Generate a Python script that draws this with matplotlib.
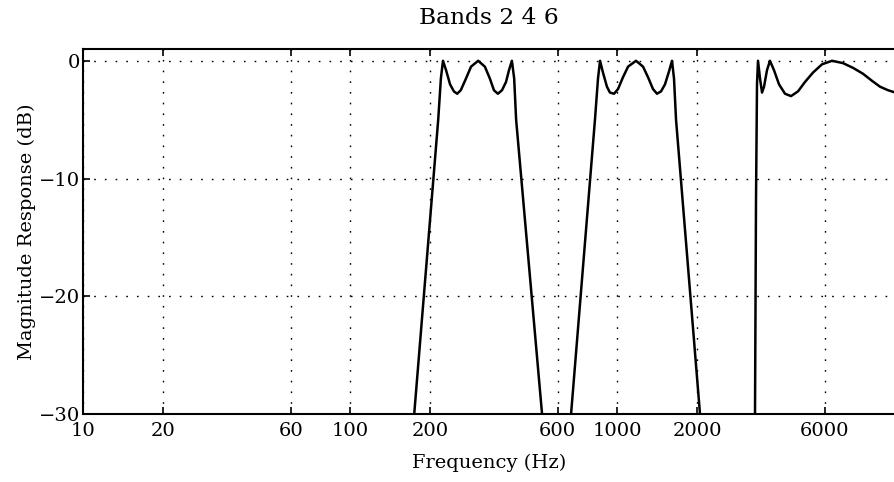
import matplotlib
matplotlib.use("Agg")
import matplotlib.pyplot as plt

# band 2 (Hz, dB)
band2_freq = [174, 214, 219, 223, 229, 237, 245, 252, 260, 272, 284, 302,
              320, 334, 346, 358, 371, 384, 394, 404, 412, 419, 524]
band2_db = [-30, -5, -1.5, 0, -0.8, -2.0, -2.6, -2.8, -2.5, -1.5, -0.5, 0,
            -0.5, -1.5, -2.5, -2.8, -2.5, -1.8, -0.8, 0, -1.5, -5, -30]

# band 4
band4_freq = [673, 827, 849, 864, 886, 917, 941, 975, 1009, 1053, 1100, 1178,
              1252, 1307, 1364, 1412, 1462, 1513, 1566, 1607, 1635, 1664, 2046]
band4_db = [-30, -5, -1.5, 0, -1.0, -2.2, -2.7, -2.8, -2.4, -1.4, -0.5, 0,
            -0.5, -1.4, -2.4, -2.8, -2.6, -2.0, -0.9, 0, -1.5, -5, -30]

# band 6
band6_freq = [3288, 3316, 3345, 3374, 3433, 3493, 3554, 3646, 3741, 3873, 4044,
              4259, 4486, 4764, 5060, 5422, 5861, 6388, 7023, 7654, 8342, 9016,
              9661, 10351, 11025]
band6_db = [-30, -12, -2, 0, -1.5, -2.7, -2.2, -0.8, 0, -0.8, -2.0,
            -2.8, -3.0, -2.6, -1.8, -1.0, -0.3, 0, -0.2, -0.6, -1.1, -1.7,
            -2.2, -2.5, -2.7]

xticks = [10, 20, 60, 100, 200, 600, 1000, 2000, 6000]
yticks = [-30, -20, -10, 0]

plt.rcParams['font.family'] = ['DejaVu Serif']
plt.rcParams['font.size'] = 14

fig = plt.figure(figsize=(8.95, 4.82), dpi=100)
ax = fig.add_axes([83 / 895, 68 / 482, 812.3 / 895, 365 / 482])

for f, db in [(band2_freq, band2_db), (band4_freq, band4_db), (band6_freq, band6_db)]:
    ax.plot(f, db, color='black', linewidth=1.8)

ax.set_xscale('log')
ax.set_xlim(10, 11025)
ax.set_ylim(-30, 1)
ax.set_xticks(xticks)
ax.set_xticklabels([str(t) for t in xticks])
ax.minorticks_off()
ax.set_yticks(yticks)

# MATLAB style dotted grid and inward ticks
ax.grid(True, color='black', linestyle=(0, (1.2, 6.5)), linewidth=1.0)
ax.tick_params(direction='in', length=5, width=1.2, top=True, right=False)
ax.tick_params(axis='x', pad=6)
ax.tick_params(axis='y', pad=2)
for side in ['left', 'bottom', 'top']:
    ax.spines[side].set_linewidth(1.5)
ax.spines['right'].set_visible(False)

ax.set_title('Bands 2 4 6', pad=18)
ax.set_xlabel('Frequency (Hz)', labelpad=10)
ax.set_ylabel('Magnitude Response (dB)', labelpad=2)

fig.savefig('out.png', dpi=100)
